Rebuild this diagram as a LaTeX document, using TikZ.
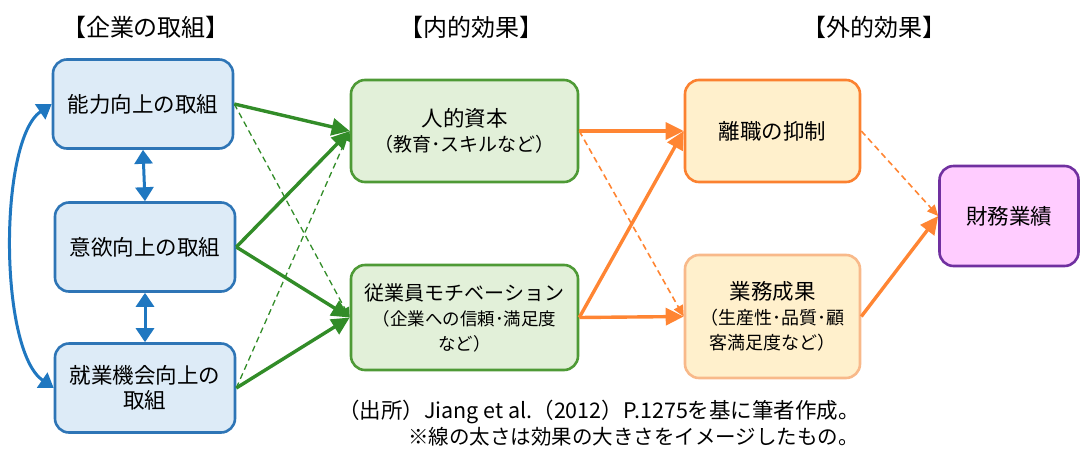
\documentclass[tikz,border=0pt]{standalone}
\usepackage{fontspec}
\setmainfont{Noto Sans CJK JP}
\usetikzlibrary{arrows.meta}
\definecolor{bluefill}{HTML}{DDEBF7}
\definecolor{bluedraw}{HTML}{2E75B6}
\definecolor{bluearrow}{HTML}{1F77C0}
\definecolor{greenfill}{HTML}{E2F0D9}
\definecolor{greendraw}{HTML}{4E9A36}
\definecolor{greenarrow}{HTML}{328C28}
\definecolor{orangefill}{HTML}{FFF0CC}
\definecolor{orangedraw}{HTML}{FB8130}
\definecolor{orangelight}{HTML}{F8B98A}
\definecolor{orangearrow}{HTML}{FF8533}
\definecolor{purplefill}{HTML}{FFCCFF}
\definecolor{purpledraw}{HTML}{7030A0}
\newcommand\myboxfont{\fontsize{21.5}{25}\selectfont\lineskiplimit -100pt\relax}
\begin{document}
\begin{tikzpicture}[x=1pt,y=-1pt,
  box/.style={rounded corners=14pt, line width=2.6pt, align=center, inner sep=0pt,
    font=\myboxfont},
  bluebox/.style={box, draw=bluedraw, fill=bluefill, minimum width=180pt, minimum height=89pt},
  greenbox/.style={box, draw=greendraw, fill=greenfill, minimum width=227pt},
  orangebox/.style={box, draw=orangedraw, fill=orangefill, minimum width=175pt},
  purplebox/.style={box, draw=purpledraw, fill=purplefill, minimum width=139pt, minimum height=100pt},
  title/.style={font=\fontsize{24}{26}\selectfont, inner sep=0pt},
  note/.style={inner sep=0pt, anchor=west},
  gthick/.style={draw=greenarrow, line width=3.4pt, -{Triangle[length=18pt,width=17pt]}},
  gdash/.style={draw=greenarrow, line width=1.3pt, dash pattern=on 6pt off 4pt, -{Triangle[length=10pt,width=9pt]}},
  othick/.style={draw=orangearrow, line width=3.4pt, -{Triangle[length=18pt,width=17pt]}},
  odash/.style={draw=orangearrow, line width=1.6pt, dash pattern=on 6pt off 4pt, -{Triangle[length=11pt,width=10pt]}},
  barrow/.style={draw=bluearrow, line width=3pt, {Triangle[length=14pt,width=18pt]}-{Triangle[length=14pt,width=18pt]}}
]
\useasboundingbox (0,0) rectangle (1080,448);

% titles
\node[title] (t1) at (146,27) {【企業の取組】};
\node[title] (t2) at (471,27) {【内的効果】};
\node[title] (t3) at (874,27) {【外的効果】};

% left column
\node[bluebox] (c1) at (143,104) {能力向上の取組};
\node[bluebox] (c2) at (145,247) {意欲向上の取組};
\node[bluebox] (c3) at (145,388) {就業機会向上の\\取組};

% middle column
\node[greenbox, minimum height=102pt] (m1) at (464.5,131) {人的資本\\{\fontsize{19}{25}\selectfont （教育･スキルなど）}};
\node[greenbox, minimum height=105pt] (m2) at (464.5,317.5) {{\fontsize{20}{25}\selectfont 従業員モチベーション}\\{\fontsize{17.5}{24}\selectfont （企業への信頼･満足度}\\{\fontsize{17.5}{22}\selectfont など）}};

% right column
\node[orangebox, minimum height=102pt] (r1) at (772.5,131) {離職の抑制};
\node[orangebox, draw=orangelight, minimum height=123pt] (r2) at (772.5,316.5) {業務成果\\{\fontsize{18}{24}\selectfont （生産性･品質･顧}\\{\fontsize{18}{22}\selectfont 客満足度など）}};

\node[purplebox] (f) at (1009,216) {財務業績};

% blue connectors
\draw[barrow] (c1.south) -- (c2.north);
\draw[barrow] (c2.south) -- (c3.north);
\draw[barrow] (c1.west) .. controls +(-53,36) and +(-55,-38) .. (c3.west);

% green connectors
\draw[gdash] (c1.east) -- (m2.west);
\draw[gdash] (c3.east) -- (m1.west);
\draw[gthick] (c1.east) -- (m1.west);
\draw[gthick] (c2.east) -- (m1.west);
\draw[gthick] (c2.east) -- (m2.west);
\draw[gthick] (c3.east) -- (m2.west);

% orange connectors
\draw[odash] (m1.east) -- (r2.west);
\draw[othick] (m1.east) -- (r1.west);
\draw[othick] (m2.east) -- (r1.west);
\draw[othick] (m2.east) -- (r2.west);
\draw[odash] (r1.east) -- (f.west);
\draw[othick] (r2.east) -- (f.west);

% notes
\node[note, font=\fontsize{21.5}{24}\selectfont] (n1) at (338,412) {（出所）Jiang et al.（2012）P.1275を基に筆者作成。};
\node[note, font=\fontsize{20.5}{24}\selectfont] (n2) at (408,437) {※線の太さは効果の大きさをイメージしたもの。};
\end{tikzpicture}
\end{document}
